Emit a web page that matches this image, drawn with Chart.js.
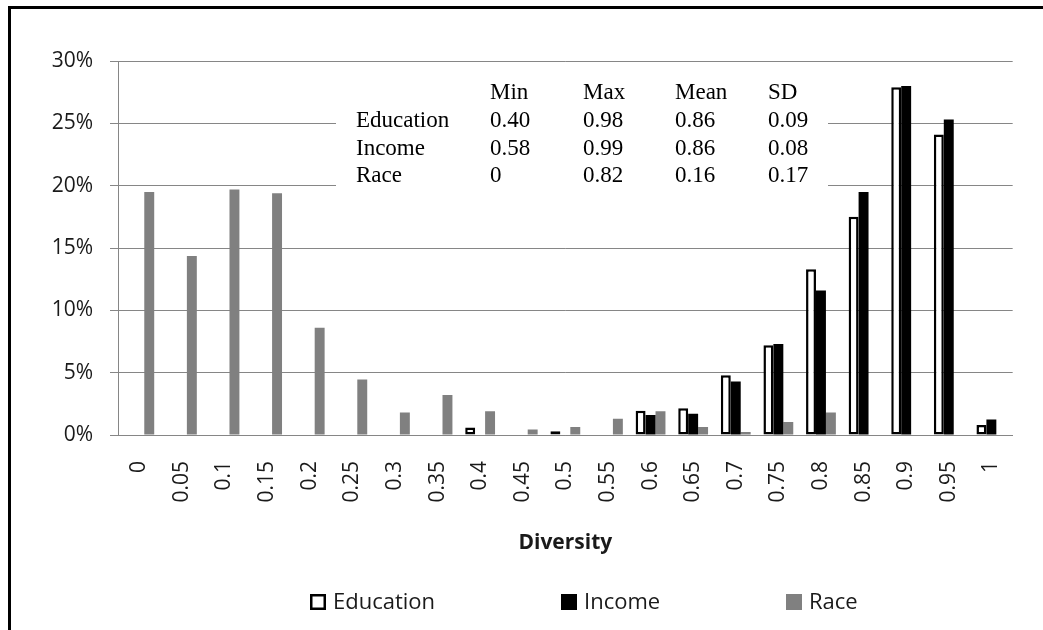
<!DOCTYPE html>
<html lang="en">
<head>
  <meta charset="UTF-8" />
  <title>Diversity Distribution</title>
  <script src="https://cdn.jsdelivr.net/npm/chart.js"></script>
  <style>
    html, body { margin: 0; padding: 0; background: #fff; overflow: hidden; }
    #frame { position: absolute; left: 8px; top: 6px; width: 1035px; height: 624px;
             border-left: 3px solid #000; border-top: 3px solid #000; box-sizing: border-box; }
    #wrap { position: absolute; left: 0; top: 0; width: 1043px; height: 630px; }
  </style>
</head>
<body>
  <div id="frame"></div>
  <div id="wrap"><canvas id="chart"></canvas></div>

  <script>
    // diversity bins (x axis)
    const categories = ['0', '0.05', '0.1', '0.15', '0.2', '0.25', '0.3', '0.35', '0.4', '0.45', '0.5',
                        '0.55', '0.6', '0.65', '0.7', '0.75', '0.8', '0.85', '0.9', '0.95', '1'];
    // share of units per bin, in %
    const education = [0, 0, 0, 0, 0, 0, 0, 0, 0.6, 0, 0.3, 0, 1.95, 2.15, 4.8, 7.2, 13.3, 17.5, 27.9, 24.1, 0.8];
    const income    = [0, 0, 0, 0, 0, 0, 0, 0, 0, 0, 0, 0, 1.6, 1.7, 4.3, 7.3, 11.6, 19.5, 28.0, 25.3, 1.25];
    const race      = [19.5, 14.35, 19.7, 19.4, 8.6, 4.45, 1.8, 3.2, 1.9, 0.45, 0.65, 1.3, 1.9, 0.65, 0.25, 1.05, 1.8, 0, 0, 0, 0];
    const yTicks = [0, 5, 10, 15, 20, 25, 30];

    // summary table
    const statCols = ['Min', 'Max', 'Mean', 'SD'];
    const statRows = ['Education', 'Income', 'Race'];
    const statEducation = ['0.40', '0.98', '0.86', '0.09'];
    const statIncome    = ['0.58', '0.99', '0.86', '0.08'];
    const statRace      = ['0', '0.82', '0.16', '0.17'];

    const SANS = '"Open Sans", "Noto Sans", sans-serif';
    const TEXT = '#1a1a1a';

    // white box with the stats table, drawn over the gridlines
    const statsTable = {
      id: 'statsTable',
      afterDraw(chart) {
        const ctx = chart.ctx;
        const colX = [356, 490, 583, 675, 768];
        const rowY = [99, 127, 155, 182];
        const values = [statEducation, statIncome, statRace];
        ctx.save();
        ctx.fillStyle = '#fff';
        ctx.fillRect(336, 72, 492, 124);
        ctx.fillStyle = '#000';
        ctx.font = '23px "Liberation Serif", "Times New Roman", serif';
        ctx.textAlign = 'left';
        ctx.textBaseline = 'alphabetic';
        statCols.forEach((c, i) => ctx.fillText(c, colX[i + 1], rowY[0]));
        statRows.forEach((r, j) => {
          ctx.fillText(r, colX[0], rowY[j + 1]);
          values[j].forEach((v, i) => ctx.fillText(v, colX[i + 1], rowY[j + 1]));
        });
        ctx.restore();
      }
    };

    // Excel-style spread legend under the axis title
    const spreadLegend = {
      id: 'spreadLegend',
      afterDraw(chart) {
        const ctx = chart.ctx;
        const boxX = [310, 561, 786];
        const y = 602;
        ctx.save();
        ctx.font = '22px ' + SANS;
        ctx.textBaseline = 'middle';
        chart.data.datasets.forEach((ds, i) => {
          const x = boxX[i];
          ctx.fillStyle = ds.backgroundColor;
          ctx.fillRect(x, y - 8, 16, 16);
          if (ds.borderWidth) {
            ctx.strokeStyle = ds.borderColor;
            ctx.lineWidth = 2.5;
            ctx.strokeRect(x + 1.25, y - 6.75, 13.5, 13.5);
          }
          ctx.fillStyle = TEXT;
          ctx.fillText(ds.label, x + 23, y + 1);
        });
        ctx.restore();
      }
    };

    new Chart(document.getElementById('chart'), {
      type: 'bar',
      data: {
        labels: categories,
        datasets: [
          { label: 'Education', data: education, backgroundColor: '#ffffff',
            borderColor: '#000000', borderWidth: 2.5, borderSkipped: false },
          { label: 'Income', data: income, backgroundColor: '#000000', borderWidth: 0 },
          { label: 'Race', data: race, backgroundColor: '#808080', borderWidth: 0 }
        ]
      },
      options: {
        responsive: true,
        maintainAspectRatio: false,
        animation: false,
        datasets: { bar: { categoryPercentage: 0.7, barPercentage: 1 } },
        layout: { padding: { left: 0, right: 18, top: 61, bottom: 60 } },
        plugins: {
          legend: { display: false },
          tooltip: { enabled: false }
        },
        scales: {
          x: {
            grid: { display: false, drawTicks: false },
            border: { display: true, color: '#868686' },
            ticks: {
              color: TEXT, font: { family: SANS, size: 21 },
              minRotation: 90, maxRotation: 90, autoSkip: false, padding: 26
            },
            title: {
              display: true, text: 'Diversity', color: TEXT,
              font: { family: SANS, size: 21, weight: 'bold' },
              padding: { top: 4, bottom: 14 }
            },
            afterFit(scale) { scale.height = 135; }
          },
          y: {
            min: 0, max: 30,
            afterBuildTicks(scale) { scale.ticks = yTicks.map(v => ({ value: v })); },
            grid: { color: '#868686', lineWidth: 1, tickLength: 8 },
            border: { display: true, color: '#868686' },
            ticks: {
              color: TEXT, font: { family: SANS, size: 21 }, padding: 17,
              callback: v => v + '%'
            },
            afterFit(scale) { scale.width = 118; }
          }
        }
      },
      plugins: [statsTable, spreadLegend]
    });
  </script>
</body>
</html>
